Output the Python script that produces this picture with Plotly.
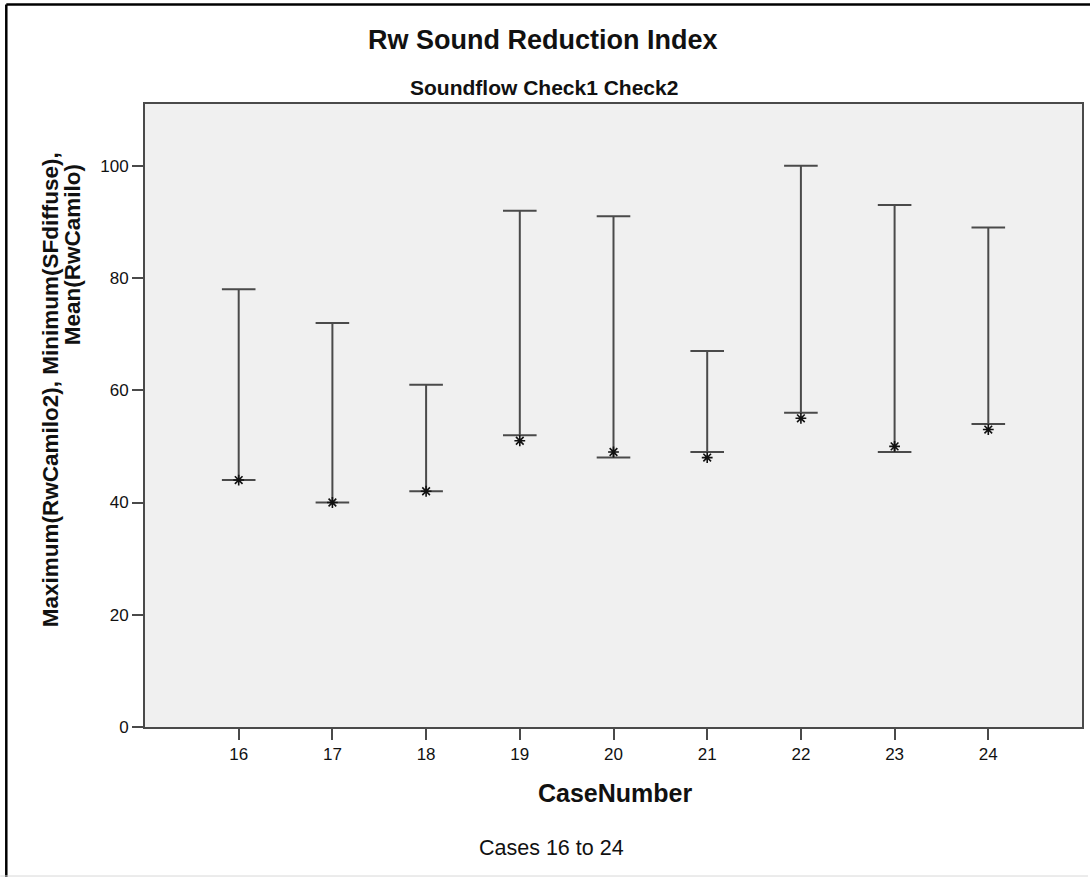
import plotly.graph_objects as go

# High-low-mean values per case
cases = [16, 17, 18, 19, 20, 21, 22, 23, 24]
max_rw_camilo2 = [78, 72, 61, 92, 91, 67, 100, 93, 89]
min_sf_diffuse = [44, 40, 42, 52, 48, 49, 56, 49, 54]
mean_rw_camilo = [44, 40, 42, 51, 49, 48, 55, 50, 53]
y_ticks = [0, 20, 40, 60, 80, 100]

W, H = 1090, 877
ML, MR, MT, MB = 145, 6, 104, 150
PW, PH = W - ML - MR, H - MT - MB
FONT = "Arial, Liberation Sans, sans-serif"
INK = "#4a4a4a"
TEXT = "#111111"


def px_x(p):
    """pixel column -> paper x"""
    return (p - ML) / PW


def px_y(p):
    """pixel row -> paper y"""
    return (H - MB - p) / PH


# vertical stems from minimum to maximum
stem_x, stem_y = [], []
for c, lo, hi in zip(cases, min_sf_diffuse, max_rw_camilo2):
    stem_x += [c, c, None]
    stem_y += [lo, hi, None]

fig = go.Figure()
fig.add_trace(go.Scatter(
    x=stem_x, y=stem_y, mode="lines",
    line=dict(color=INK, width=2), hoverinfo="skip", showlegend=False))

cap_style = dict(symbol="line-ew", size=24, color=INK,
                 line=dict(color=INK, width=2))
fig.add_trace(go.Scatter(x=cases, y=max_rw_camilo2, mode="markers",
                         marker=cap_style, name="Maximum(RwCamilo2)",
                         showlegend=False))
fig.add_trace(go.Scatter(x=cases, y=min_sf_diffuse, mode="markers",
                         marker=cap_style, name="Minimum(SFdiffuse)",
                         showlegend=False))
fig.add_trace(go.Scatter(x=cases, y=mean_rw_camilo, mode="markers",
                         marker=dict(symbol="asterisk-open", size=9,
                                     color="#111111",
                                     line=dict(color="#111111", width=1.6)),
                         name="Mean(RwCamilo)", showlegend=False))

fig.update_xaxes(
    range=[15, 25], tickvals=cases, ticktext=[str(c) for c in cases],
    ticks="outside", ticklen=11, tickwidth=2, tickcolor=INK,
    showline=True, linewidth=2, linecolor=INK, mirror=True,
    showgrid=False, zeroline=False,
    tickfont=dict(family=FONT, size=17, color=TEXT),
)
fig.update_yaxes(
    range=[0, 111], tickvals=y_ticks, ticktext=[str(v) for v in y_ticks],
    ticks="outside", ticklen=11, tickwidth=2, tickcolor=INK,
    showline=True, linewidth=2, linecolor=INK, mirror=True,
    showgrid=False, zeroline=False,
    tickfont=dict(family=FONT, size=17, color=TEXT),
)

annotations = [
    dict(text="Rw Sound Reduction Index", x=px_x(544), y=px_y(40),
         font=dict(family=FONT, size=27, color=TEXT, weight="bold")),
    dict(text="Soundflow Check1 Check2", x=px_x(545), y=px_y(87),
         font=dict(family=FONT, size=21, color=TEXT, weight="bold")),
    dict(text="CaseNumber", x=px_x(616), y=px_y(793),
         font=dict(family=FONT, size=25, color=TEXT, weight="bold")),
    dict(text="Cases 16 to 24", x=px_x(552), y=px_y(848),
         font=dict(family=FONT, size=21.5, color=TEXT)),
    # two-line axis title, second line aligned towards the top
    dict(text="Maximum(RwCamilo2), Minimum(SFdiffuse),", x=px_x(50),
         y=px_y(390), textangle=-90,
         font=dict(family=FONT, size=22.5, color=TEXT, weight="bold")),
    dict(text="Mean(RwCamilo)", x=px_x(73), y=px_y(255), textangle=-90,
         font=dict(family=FONT, size=22.5, color=TEXT, weight="bold")),
]
for a in annotations:
    a.update(xref="paper", yref="paper", showarrow=False,
             xanchor="center", yanchor="middle")

shapes = [
    # outer frame, left and top edges
    dict(type="line", xref="paper", yref="paper",
         x0=px_x(6), x1=px_x(6), y0=px_y(4.5), y1=px_y(H + 5),
         line=dict(color="#000000", width=2.5)),
    dict(type="line", xref="paper", yref="paper",
         x0=px_x(6), x1=px_x(W + 5), y0=px_y(4.5), y1=px_y(4.5),
         line=dict(color="#000000", width=2.5)),
    dict(type="line", xref="paper", yref="paper",
         x0=px_x(0), x1=px_x(W), y0=px_y(876), y1=px_y(876),
         line=dict(color="#d8d8d8", width=1)),
]

fig.update_layout(
    width=W, height=H, autosize=False,
    margin=dict(l=ML, r=MR, t=MT, b=MB, pad=0),
    paper_bgcolor="#ffffff", plot_bgcolor="#f0f0f0",
    annotations=annotations, shapes=shapes,
    showlegend=False,
)

fig.write_html("out.html")
